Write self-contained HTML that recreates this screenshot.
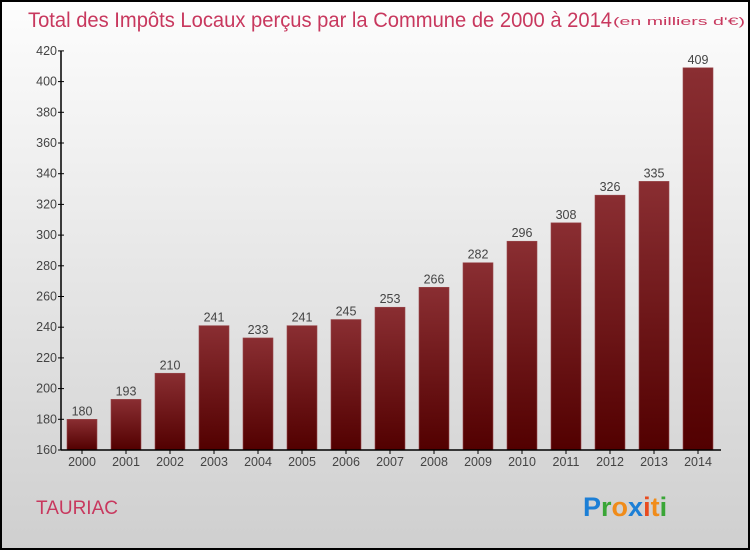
<!DOCTYPE html>
<html><head><meta charset="utf-8"><style>
body{margin:0;width:750px;height:550px;overflow:hidden;font-family:"Liberation Sans",sans-serif}
</style></head><body>
<svg width="750" height="550" xmlns="http://www.w3.org/2000/svg" font-family="Liberation Sans, sans-serif">
<defs>
<linearGradient id="bg" x1="0" y1="0" x2="0" y2="1"><stop offset="0" stop-color="#fdfdfd"/><stop offset="1" stop-color="#cfcfcf"/></linearGradient>
<linearGradient id="bar" x1="0" y1="0" x2="0" y2="1"><stop offset="0" stop-color="#8a2e32"/><stop offset="1" stop-color="#520000"/></linearGradient>
</defs>
<rect x="1" y="1" width="748" height="548" fill="url(#bg)" stroke="#000" stroke-width="2"/>
<text x="28" y="27" font-size="21" fill="#c8385e" textLength="584" lengthAdjust="spacingAndGlyphs">Total des Impôts Locaux perçus par la Commune de 2000 à 2014</text>
<text x="613" y="25" font-size="11" fill="#c8385e" textLength="132" lengthAdjust="spacingAndGlyphs">(en milliers d'€)</text>
<g id="plot"></g>
<text x="36" y="514" font-size="19" fill="#c8385e">TAURIAC</text>
<g font-size="27" font-weight="bold">
<text x="583" y="516"><tspan fill="#1c7fd6">P</tspan><tspan fill="#3aa637">r</tspan><tspan fill="#f08c1a">o</tspan><tspan fill="#1c7fd6">x</tspan><tspan fill="#e84b1f">i</tspan><tspan fill="#f08c1a">t</tspan><tspan fill="#3aa637">i</tspan></text>
</g>
</svg>
<script>
const categories=["2000","2001","2002","2003","2004","2005","2006","2007","2008","2009","2010","2011","2012","2013","2014"];
const values=[180,193,210,241,233,241,245,253,266,282,296,308,326,335,409];
const yTicks=[160,180,200,220,240,260,280,300,320,340,360,380,400,420];
const NS="http://www.w3.org/2000/svg";
const g=document.getElementById('plot');
const y=v=>450-(v-160)*30.7/20;
const x=i=>82+44*i;
function el(t,a){const e=document.createElementNS(NS,t);for(const k in a)e.setAttribute(k,a[k]);g.appendChild(e);return e;}
yTicks.forEach(t=>{
 const l=el('line',{x1:58,x2:64,y1:y(t),y2:y(t),stroke:'#000'});
 
 
 const tx=el('text',{x:57,y:y(t)+4,'text-anchor':'end','font-size':12.5,fill:'#444'});tx.textContent=t;
 
 
});
categories.forEach((c,i)=>{
 const v=values[i];
 const r=el('rect',{x:x(i)-15,y:y(v),width:30,height:450-y(v),fill:'url(#bar)',stroke:'#9a4a4e','stroke-width':0.6});
 
 
 const vl=el('text',{x:x(i),y:y(v)-4,'text-anchor':'middle','font-size':12.5,fill:'#444'});vl.textContent=v;
 
 
 const tk=el('line',{x1:x(i),x2:x(i),y1:450,y2:454,stroke:'#000'});
 
 
 const xl=el('text',{x:x(i),y:466,'text-anchor':'middle','font-size':12.5,fill:'#444'});xl.textContent=c;
 
 
});
const ya=el('line',{x1:61,x2:61,y1:y(420),y2:450,stroke:'#000','stroke-width':1.5});


const xa=el('line',{x1:61,x2:721,y1:450,y2:450,stroke:'#000','stroke-width':1.5});


</script>
</body></html>
